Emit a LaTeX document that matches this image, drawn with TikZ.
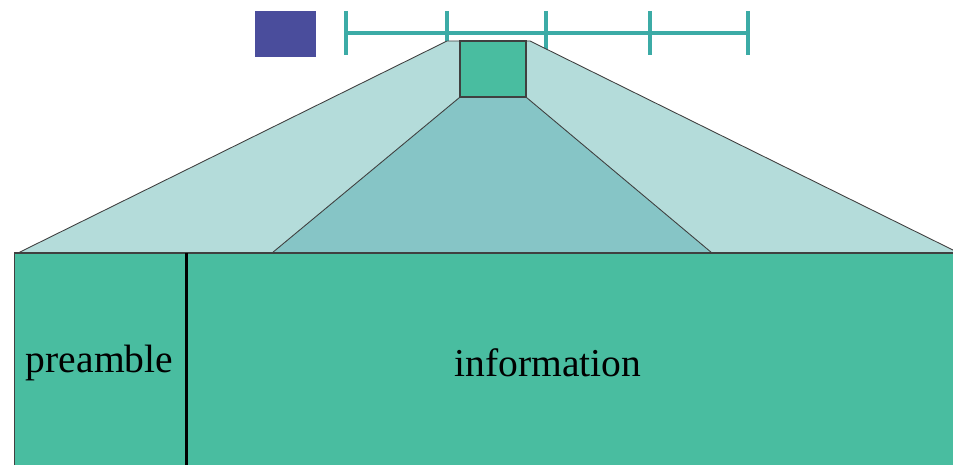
\documentclass[tikz,border=0pt]{standalone}
\usepackage{fontspec}
\setmainfont{Liberation Serif}
\usepackage{tikz}
\usetikzlibrary{positioning,calc}
\definecolor{marker}{HTML}{4A4D9C}
\definecolor{tickline}{HTML}{3CABA6}
\definecolor{block}{HTML}{49BDA0}
\definecolor{coneout}{HTML}{B4DCDA}
\definecolor{conein}{HTML}{86C5C6}
\tikzset{
  fbox/.style={draw=black!75,fill=block,line width=0.6pt,inner sep=0pt},
  tline/.style={draw=tickline,line width=2.3pt},
  cone/.style={draw=black!75,line width=0.5pt},
  lbl/.style={font=\fontsize{22.5}{26}\selectfont,text=black}
}

\begin{document}
\begin{tikzpicture}[x=0.02cm,y=-0.02cm]
  \useasboundingbox (0,0) rectangle (953,465);
  \clip (0,0) rectangle (953,465);
  % marker and time axis
  \node[fill=marker,minimum width=1.22cm,minimum height=0.92cm,inner sep=0pt] (mark) at (285.5,34) {};
  \coordinate (t0) at (346,33);
  \coordinate (t1) at (447,33);
  \coordinate (t2) at (546,33);
  \coordinate (t3) at (650,33);
  \coordinate (t4) at (748,33);
  \draw[tline] (t0) -- (t4);
  \foreach \t in {t0,t1,t2,t3,t4}
    \draw[tline] ($(\t)+(0,-22)$) -- ($(\t)+(0,22)$);
  % frame and the two blocks below it
  \coordinate (frm) at (493,69);
  \coordinate (base) at (14,253);
  % zoom cones
  \draw[cone,fill=coneout] ($(frm)+(-46,-28)$) -- ($(frm)+(37,-28)$) -- ($(base)+(945,0)$) -- ($(base)+(4,0)$) -- cycle;
  \node[fbox,minimum width=1.32cm,minimum height=1.12cm] (frame) at (frm) {};
  \draw[cone,fill=conein] (frame.south west) -- (frame.south east) -- ($(base)+(698,0)$) -- ($(base)+(258,0)$) -- cycle;
  \node[fbox,anchor=north west,minimum width=3.42cm,minimum height=5cm] (pre) at (base) {};
  \node[fbox,anchor=north west,minimum width=18cm,minimum height=5cm] (info) at (pre.north east) {};
  \draw[black!75,line width=1.2pt] (pre.north west) -- (info.north east);
  \draw[black,line width=1.7pt] (pre.north east) -- (pre.south east);
  \node[lbl] (prelbl) at (99.5,363) {preamble};
  \node[lbl] (infolbl) at (548,363) {information};
\end{tikzpicture}
\end{document}
